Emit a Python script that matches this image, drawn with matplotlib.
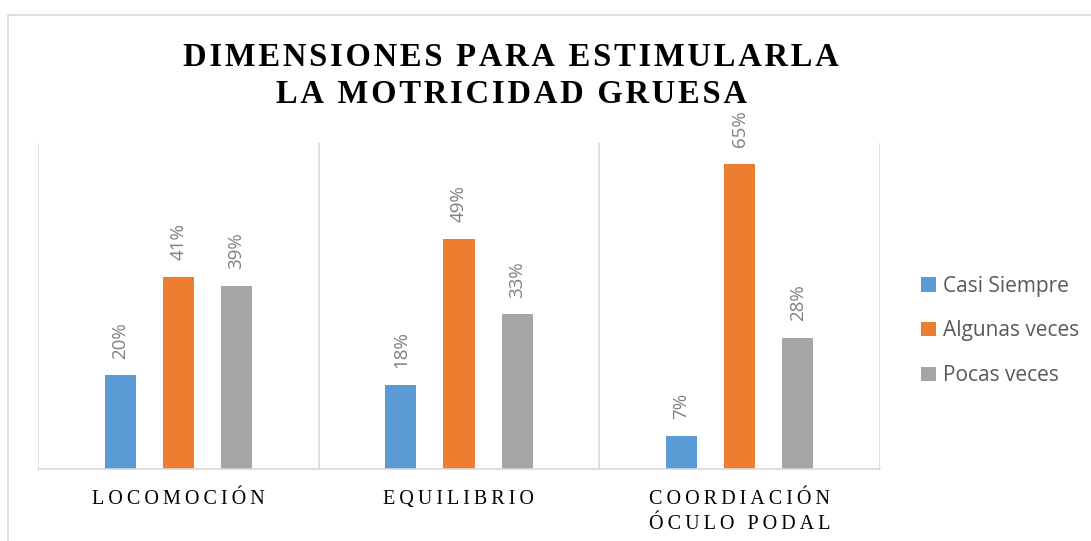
import matplotlib
matplotlib.use("Agg")
import matplotlib.pyplot as plt
import numpy as np
from matplotlib.patches import Rectangle

categories = ["LOCOMOCIÓN", "EQUILIBRIO", "COORDIACIÓN\nÓCULO PODAL"]
series_names = ["Casi Siempre", "Algunas veces", "Pocas veces"]
casi_siempre = [20, 18, 7]
algunas_veces = [41, 49, 65]
pocas_veces = [39, 33, 28]
title_text = "DIMENSIONES PARA ESTIMULARLA\nLA MOTRICIDAD GRUESA"

colors = ["#5B9BD5", "#ED7D31", "#A5A5A5"]
series = [casi_siempre, algunas_veces, pocas_veces]

def spaced(s, sep="\u2009"):
    return "\n".join(sep.join(list(line)) for line in s.split("\n"))

fig = plt.figure(figsize=(10.91, 5.41), dpi=100)
fig.patches.append(Rectangle((8/1091, -0.1), 1.2, 1 - 15/541 + 0.1, transform=fig.transFigure,
                             fill=False, edgecolor="#D9D9D9", linewidth=1.2, zorder=0))
ax = fig.add_axes([38/1091, 1 - 469/541, (880 - 38)/1091, (469 - 143)/541])

x = np.arange(len(categories))
offset = 0.207
width = 0.111
for i, (vals, name, c) in enumerate(zip(series, series_names, colors)):
    pos = x + (i - 1) * offset
    ax.bar(pos, vals, width=width, color=c, label=name, zorder=2)
    for p, v in zip(pos, vals):
        ax.annotate(f"{v}%", (p, v), xytext=(0, 12), textcoords="offset points",
                    rotation=90, ha="center", va="bottom", color="#7F7F7F",
                    fontsize=13.5, family="Open Sans")

ax.set_xlim(-0.5, 2.5)
ax.set_ylim(0, 69.5)
ax.set_yticks([])
for s in ["top", "right", "left"]:
    ax.spines[s].set_visible(False)
ax.spines["bottom"].set_color("#D9D9D9")
ax.spines["bottom"].set_linewidth(1.2)
for b in [-0.5, 0.5, 1.5, 2.5]:
    ax.axvline(b, color="#D9D9D9", linewidth=1.2, zorder=1)

ax.set_xticks(x)
ax.set_xticklabels([spaced(c) for c in categories], family=["Liberation Serif", "DejaVu Serif"],
                   fontsize=14.5, color="#000000", va="top", linespacing=1.45)
ax.tick_params(axis="x", length=0, pad=15)

fig.text(511/1091, 1 - 76/541, spaced(title_text, "\u200a"), ha="center", va="center",
         family=["Liberation Serif", "DejaVu Serif"], fontweight="bold", fontsize=23.5,
         linespacing=1.22)

ax.legend(loc="center left", frameon=False, prop={"family": "Open Sans", "size": 15},
          labelcolor="#595959", handlelength=0.7, handleheight=0.7, handletextpad=0.35,
          labelspacing=1.15, borderaxespad=0, borderpad=0)
leg = ax.get_legend()
leg.set_bbox_to_anchor((921/1091, 1 - 331/541), transform=fig.transFigure)

fig.savefig("out.png", dpi=100, facecolor="white")
